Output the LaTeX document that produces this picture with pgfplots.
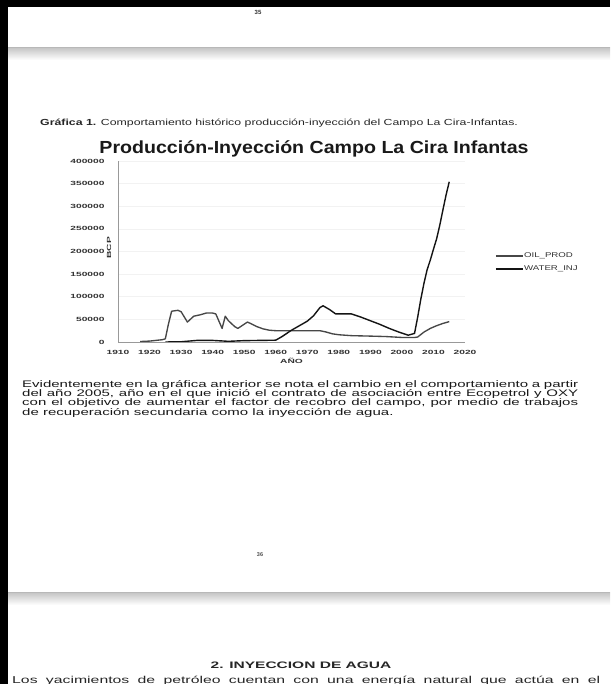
\documentclass[border=0pt]{standalone}
\usepackage{fontspec}
\setmainfont{Liberation Sans}
\usepackage{pgfplots}
\pgfplotsset{compat=1.18}
\newfontfamily\bodyf[FakeStretch=1.58]{Liberation Sans}
\newfontfamily\headf[FakeStretch=1.65]{Liberation Sans}
\newfontfamily\capf[FakeStretch=1.4]{Liberation Sans}
\newfontfamily\tickf[FakeStretch=1.7]{Liberation Sans}
\newfontfamily\titlef[FakeStretch=1.12]{Liberation Sans}
\begin{document}
\begin{tikzpicture}[x=1pt,y=1pt]
\useasboundingbox (0,0) rectangle (610,684);
\clip (0,0) rectangle (610,684);
\fill[white] (0,0) rectangle (610,684);
% page separators
\shade[top color=black!22, bottom color=white] (8,624) rectangle (610,636);
\fill[black!28] (8,635.5) rectangle (610,637);
\shade[top color=black!22, bottom color=white] (8,79) rectangle (610,91);
\fill[black!28] (8,90.5) rectangle (610,92);
% page numbers
\node[font=\bfseries\fontsize{6}{7}\selectfont, text=black!80] at (258,672) {35};
\node[font=\bfseries\fontsize{5.5}{7}\selectfont, text=black!70] at (260,129) {36};
% caption
\node[anchor=base west, inner sep=0, text=black!85] at (40,558) {\capf\fontsize{8.8}{9}\selectfont\textbf{Gráfica 1.} Comportamiento histórico producción-inyección del Campo La Cira-Infantas.};
% title
\node[inner sep=0, text=black!90] at (314,535) {\titlef\bfseries\fontsize{17.5}{19}\selectfont Producción-Inyección Campo La Cira Infantas};
\begin{axis}[
  at={(118pt,342pt)}, anchor=south west, scale only axis,
  width=347pt, height=181pt,
  xmin=1910, xmax=2020, ymin=0, ymax=400000,
  axis x line*=bottom, axis y line*=left,
  axis line style={-, black!40, line width=0.9pt},
  major tick length=0pt,
  xtick={1910,1920,...,2020},
  ytick={0,50000,...,400000},
  scaled y ticks=false, scaled x ticks=false,
  /pgf/number format/assume math mode=true,
  /pgf/number format/fixed,
  /pgf/number format/precision=0,
  /pgf/number format/1000 sep={},
  tick label style={font=\tickf\bfseries\fontsize{6}{7}\selectfont, text=black!80},
  yticklabel style={anchor=east, xshift=-10pt},
  xticklabel style={anchor=north, yshift=-4.5pt},
  ymajorgrids, grid style={black!5, line width=0.6pt},
  xlabel={AÑO},
  xlabel style={at={(axis description cs:0.5,0)}, anchor=center, yshift=-19pt, font=\tickf\bfseries\fontsize{6}{7}\selectfont, text=black!80},
  ylabel={BCP},
  ylabel style={at={(axis description cs:0,0.52)}, anchor=center, yshift=9pt, font=\tickf\bfseries\fontsize{6}{7}\selectfont, text=black!80},
  legend style={at={(axis description cs:1,0.44)}, anchor=west, xshift=30pt,
    draw=none, fill=none, inner sep=0pt, row sep=6pt,
    nodes={inner sep=0.5pt, text height=4.5pt, text depth=1.5pt},
    font=\capf\fontsize{6.9}{7}\selectfont, text=black!80},
  legend cell align=left,
  legend image code/.code={\draw[#1] (0pt,0pt) -- (27pt,0pt);},
]
\addplot[black!72, line width=1.35pt, line join=round, no marks] coordinates {
(1917,1000) (1920,2000) (1924,5000) (1925,7000) (1926,40000) (1927,68000)
(1929,70000) (1930,67000) (1932,44000) (1934,57000) (1936,60000) (1938,64000)
(1940,64000) (1941,62000) (1943,30000) (1944,57000) (1945,47000) (1947,34000)
(1948,30000) (1951,44000) (1952,41000) (1954,34000) (1956,29000) (1958,26000)
(1960,25000) (1965,25000) (1970,25000) (1974,25000) (1976,22000) (1978,18000)
(1980,16000) (1984,14000) (1990,13000) (1995,12000) (2000,10000) (2004,10000)
(2005,11000) (2007,22000) (2009,30000) (2011,36000) (2013,41000) (2015,45000)
};
\addlegendentry{OIL\_PROD}
\addplot[black!92, line width=1.4pt, line join=round, no marks] coordinates {
(1925,0) (1930,500) (1935,3500) (1940,3500) (1945,1500) (1950,3000) (1955,3500)
(1960,4000) (1962,12000) (1965,26000) (1968,38000) (1970,46000) (1972,58000)
(1974,76000) (1975,80000) (1977,72000) (1979,62000) (1982,62000) (1984,62000)
(1987,55000) (1990,47000) (1993,39000) (1996,30000) (1999,22000) (2002,15000)
(2004,19000) (2005,55000) (2006,95000) (2007,130000) (2008,160000) (2009,181000)
(2010,205000) (2011,228000) (2012,258000) (2013,292000) (2014,325000) (2015,354000)
};
\addlegendentry{WATER\_INJ}
\end{axis}
% paragraph
\node[anchor=base west, inner sep=0, text=black!90] at (22,296.5) {\bodyf\fontsize{9.5}{9}\selectfont\makebox[556pt][s]{Evidentemente en la gráfica anterior se nota el cambio en el comportamiento a partir}};
\node[anchor=base west, inner sep=0, text=black!90] at (22,287.2) {\bodyf\fontsize{9.5}{9}\selectfont\makebox[556pt][s]{del año 2005, año en el que inició el contrato de asociación entre Ecopetrol y OXY}};
\node[anchor=base west, inner sep=0, text=black!90] at (22,278.2) {\bodyf\fontsize{9.5}{9}\selectfont\makebox[556pt][s]{con el objetivo de aumentar el factor de recobro del campo, por medio de trabajos}};
\node[anchor=base west, inner sep=0, text=black!90] at (22,268.8) {\bodyf\fontsize{9.5}{9}\selectfont de recuperación secundaria como la inyección de agua.};
% section heading
\node[anchor=base, inner sep=0, text=black!85] at (301,16) {\headf\bfseries\fontsize{9.4}{10}\selectfont 2. INYECCION DE AGUA};
\node[anchor=base west, inner sep=0, text=black!85] at (12,1) {\bodyf\fontsize{10}{11}\selectfont\makebox[588pt][s]{Los yacimientos de petróleo cuentan con una energía natural que actúa en el}};
% black frame
\fill[black] (0,0) rectangle (8,684);
\fill[black] (0,677) rectangle (610,684);
\end{tikzpicture}
\end{document}
